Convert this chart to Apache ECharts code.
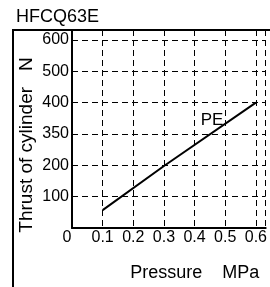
<!DOCTYPE html>
<html>
<head>
<meta charset="utf-8">
<script src="https://cdn.jsdelivr.net/npm/echarts@6/dist/echarts.min.js"></script>
<style>
  html, body { margin: 0; padding: 0; background: #fff; }
  #chart { width: 270px; height: 287px; }
</style>
</head>
<body>
<div id="chart"></div>
<script>
// data
const pressure = [0.1, 0.3, 0.6];       // MPa
const thrust = [57, 198, 400];          // N, line "PE"
const xTicks = [0, 0.1, 0.2, 0.3, 0.4, 0.5, 0.6];
const yTickValues = [100, 200, 300, 400, 500, 600];
const yTickLabels = ['100', '200', '350', '400', '500', '600'];  // as printed
const seriesName = 'PE';
const peLabelAt = [0.457, 345];

const font = 'Liberation Sans, Arial, sans-serif';

const chart = echarts.init(document.getElementById('chart'));

chart.setOption({
  animation: false,
  backgroundColor: '#fff',
  title: {
    text: 'HFCQ63E',
    left: 11,
    top: 3,
    textStyle: { fontFamily: font, fontSize: 18, fontWeight: 'normal', color: '#000' }
  },
  grid: { left: 72, right: 0, top: 30, bottom: 59 },
  xAxis: {
    type: 'value',
    min: 0,
    max: 0.632,
    interval: 0.1,
    name: 'Pressure    MPa',
    nameLocation: 'middle',
    nameGap: 36,
    nameMoveOverlap: false,
    nameTextStyle: { fontFamily: font, fontSize: 18, color: '#000', padding: [0, 0, 0, 52] },
    axisLine: { lineStyle: { color: '#000', width: 2 } },
    axisTick: { show: false },
    axisLabel: {
      margin: 2,
      fontFamily: font,
      fontSize: 16,
      color: '#000',
      showMaxLabel: false,
      formatter: function (v) {
        const hit = xTicks.find(t => Math.abs(t - v) < 1e-6);
        if (hit === undefined) return '';
        return hit === 0 ? '{z|0}' : String(hit);
      },
      rich: { z: { fontFamily: font, fontSize: 16, color: '#000', padding: [0, 10, 0, 0] } }
    },
    splitLine: { show: true, lineStyle: { color: '#000', width: 1, type: [6, 4] } }
  },
  yAxis: {
    type: 'value',
    min: 0,
    max: 632,
    interval: 100,
    name: 'Thrust of cylinder   N',
    nameLocation: 'middle',
    nameGap: 36,
    nameMoveOverlap: false,
    nameTextStyle: { fontFamily: font, fontSize: 19, color: '#000', padding: [0, 32, 0, 0] },
    axisLine: { show: true, lineStyle: { color: '#000', width: 2 } },
    axisTick: { show: false },
    axisLabel: {
      margin: 3,
      fontFamily: font,
      fontSize: 16,
      color: '#000',
      showMaxLabel: false,
      formatter: function (v) {
        const i = yTickValues.indexOf(v);
        return i < 0 ? '' : yTickLabels[i];
      }
    },
    splitLine: { show: true, lineStyle: { color: '#000', width: 1, type: [6, 4] } }
  },
  series: [{
    name: seriesName,
    type: 'line',
    data: pressure.map((p, i) => [p, thrust[i]]),
    showSymbol: false,
    lineStyle: { color: '#000', width: 2 },
    markPoint: {
      symbol: 'rect',
      symbolSize: 0,
      data: [{ coord: peLabelAt }],
      label: {
        show: true,
        formatter: seriesName,
        fontFamily: font,
        fontSize: 17,
        color: '#000'
      }
    }
  }],
  graphic: [{
    type: 'polyline',
    shape: { points: [[13, 287], [13, 30], [270, 30]] },
    style: { stroke: '#000', lineWidth: 2, fill: null }
  }]
});
</script>
</body>
</html>
